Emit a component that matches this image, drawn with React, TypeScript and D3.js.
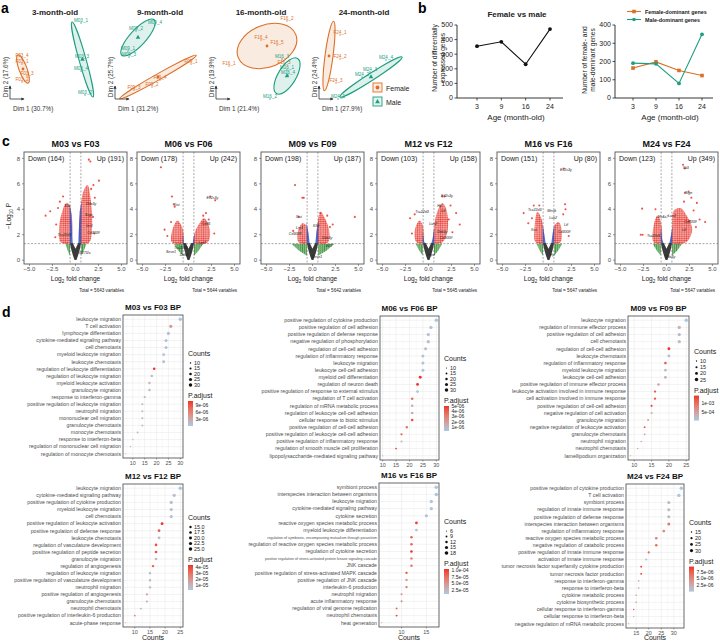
import React from "react";
import * as d3 from "d3";

const FONT = "'Liberation Sans', Arial, Helvetica, sans-serif";
const ORANGE = "#DB6F27";
const GREEN = "#1E9E80";
const TXT = "#4D4D4D";

// ---------------- panel a: PCA ----------------
const pcaAges = ["3-month-old", "9-month-old", "16-month-old", "24-month-old"];
const pcaDim1 = ["30.7%", "31.2%", "21.4%", "27.9%"];
const pcaDim2 = ["17.6%", "25.7%", "19.9%", "24.4%"];
// [sample, dim1, dim2] in plot units
const pcaFemale: [string, number, number][][] = [
  [["F03_4", 12, 41], ["F03_1", 12, 35], ["F03_3", 17, 23], ["F03_2", 12, 17]],
  [["F09_1", 76, 35], ["F09_2", 37, 12], ["F09_3", 19, 9], ["F09_4", 45, 19]],
  [["F16_2", 71, 78], ["F16_4", 45, 59], ["F16_5", 61, 54], ["F16_1", 13, 33], ["F16_3", 68, 34]],
  [["F24_1", 21, 64], ["F24_2", 21, 40], ["F24_3", 17, 16]],
];
const pcaMale: [string, number, number][][] = [
  [["M03_1", 71, 76], ["M03_3", 72, 40], ["M03_4", 71, 28], ["M03_2", 75, 4]],
  [["M09_4", 40, 74], ["M09_2", 21, 68], ["M09_1", 13, 48], ["M09_3", 14, 42]],
  [["M16_3", 66, 40], ["M16_1", 71, 29], ["M16_4", 72, 24], ["M16_2", 54, 0]],
  [["M24_1", 19, 0], ["M24_2", 43, 22], ["M24_3", 51, 27], ["M24_4", 67, 39]],
];
// concentration ellipses: [centre d1, centre d2, semi-major, semi-minor, angle deg]
const ellFemale = [[13, 30, 15, 4, -70], [43, 22, 44, 3, 29.5], [51, 53, 31, 21, 22], [10, 43, 35, 4, 82.5]];
const ellMale = [[72.5, 39.5, 39, 3.5, -74.4], [23, 61.5, 24, 8, 47.6], [71, 23, 20.5, 9, 59], [52, 22, 37, 3.5, 32.8]];

// ---------------- panel b ----------------
const ages = ["3", "9", "16", "24"];
const degTotal = [355, 385, 231, 472];
const femaleDominant = [164, 198, 151, 123];
const maleDominant = [191, 187, 80, 349];

// ---------------- panel c: volcano ----------------
const volTitles = ["M03 vs F03", "M06 vs F06", "M09 vs F09", "M12 vs F12", "M16 vs F16", "M24 vs F24"];
const volDown = [164, 178, 198, 103, 151, 123];
const volUp = [191, 242, 187, 158, 80, 349];
const volTotal = [5643, 5644, 5642, 5645, 5647, 5647];
const volBlueTop = [[4.4, 4.6], [2.0, 2.1], [3.0, 3.1], [2.2, 2.5], [2.8, 2.9], [2.4, 2.6]];
const volGreenReach = [[1.1, 1.2], [1.6, 1.6], [2.3, 2.4], [1.4, 1.5], [1.3, 1.5], [1.5, 1.7]];
const nsCore = [[-0.62, 1.35], [-0.45, 0.8], [-0.25, 0.3], [-0.1, 0.02], [0.1, 0.02], [0.25, 0.3], [0.45, 0.8], [0.62, 1.35], [0.3, 1.35], [0, 0.9], [-0.3, 1.35]];
const volRedLeft = [
  [[-0.6, 1.35], [-1.6, 1.4], [-1.8, 2.4], [-1.5, 3.7], [-1.0, 4.5], [-0.62, 4.3]],
  [[-0.6, 1.35], [-1.8, 1.4], [-1.7, 2.5], [-1.2, 3.1], [-0.65, 2.5]],
  [[-0.6, 1.35], [-1.5, 1.4], [-1.6, 2.2], [-1.1, 2.9], [-0.65, 2.7]],
  [[-0.6, 1.35], [-1.3, 1.4], [-1.5, 2.3], [-1.0, 3.1], [-0.65, 2.8]],
  [[-0.6, 1.35], [-1.4, 1.4], [-1.5, 2.7], [-1.2, 3.8], [-0.7, 3.1]],
  [[-0.6, 1.35], [-1.4, 1.4], [-1.4, 2.7], [-1.0, 3.5], [-0.65, 3.1]],
];
const volRedRight = [
  [[0.6, 1.35], [1.5, 1.4], [1.8, 2.6], [1.7, 4.5], [1.3, 5.9], [0.9, 5.5], [0.62, 4.5]],
  [[0.6, 1.35], [2.1, 1.4], [2.3, 2.5], [1.7, 3.3], [1.2, 2.9], [0.65, 2.1]],
  [[0.6, 1.35], [1.7, 1.4], [1.8, 2.4], [1.2, 3.5], [0.9, 3.8], [0.62, 3.2]],
  [[0.6, 1.35], [1.5, 1.4], [2.1, 2.4], [1.9, 4.1], [1.5, 4.5], [1.0, 3.9], [0.62, 2.7]],
  [[0.6, 1.35], [1.3, 1.4], [1.4, 2.5], [1.1, 3.0], [0.65, 2.7]],
  [[0.6, 1.35], [2.1, 1.4], [2.8, 2.4], [2.2, 3.5], [1.5, 4.1], [0.8, 3.9], [0.62, 2.7]],
];
const volOutliers = [
  [[1.45, 7.9], [1.62, 7.75], [2.55, 6.25], [1.95, 5.9], [1.7, 5.6], [-3.25, 3.5], [-2.75, 3.85], [-1.35, 5.0], [-1.9, 4.1], [2.1, 4.9], [-2.1, 2.8], [2.05, 2.1], [-2.2, 1.8], [1.9, 3.4], [-1.7, 4.6]],
  [[-3.0, 7.3], [-1.8, 5.0], [-1.6, 4.4], [-1.5, 4.2], [2.35, 5.0], [2.9, 4.7], [1.9, 3.7], [-2.6, 2.4], [-2.3, 1.9], [2.8, 2.1], [2.2, 3.2], [-1.9, 3.0], [1.6, 3.5]],
  [[-1.9, 5.9], [-1.1, 4.9], [-0.95, 4.9], [4.6, 3.4], [0.85, 3.7], [2.2, 2.8], [-2.1, 2.3], [1.6, 3.5], [-1.5, 3.4], [1.9, 2.6]],
  [[1.75, 5.0], [1.5, 5.0], [3.0, 3.7], [3.4, 2.8], [-2.0, 3.3], [-1.5, 3.6], [2.4, 4.3], [-1.8, 2.1], [2.6, 2.2], [2.2, 3.2]],
  [[1.65, 7.2], [1.8, 4.4], [1.85, 4.0], [-2.7, 3.7], [-2.2, 2.9], [-1.6, 4.3], [-1.0, 4.3], [1.6, 3.6], [2.2, 1.9], [-1.8, 3.3]],
  [[1.8, 7.5], [2.0, 7.2], [2.0, 5.3], [2.4, 5.4], [-2.65, 4.05], [-1.2, 4.0], [-2.6, 2.0], [-2.8, 2.0], [4.2, 3.0], [2.95, 3.9], [3.6, 3.2], [1.9, 4.6], [2.7, 4.9], [3.2, 2.6], [2.5, 3.1], [3.3, 4.5]],
];
const volGenes: [string, number, number][][] = [
  [["Ddx3y", 1.7, 4.3], ["Srgn", 1.45, 3.5], ["Ier3", 1.5, 2.6], ["Cd300lf", 1.95, 2.05], ["Tsc22d3", -1.2, 1.9], ["Ifi27l2a", 1.0, 0.45], ["Xist", -0.9, 4.2]],
  [["Eif2s3y", 2.6, 4.8], ["Xist", -1.3, 4.25], ["Cd36", 1.9, 2.75], ["Tsc22d3", -0.85, 0.9], ["Sesn1", -1.9, 0.6], ["Ddit4", -0.5, 0.35], ["Lrp1", 1.5, 1.3]],
  [["Xist", -1.5, 3.35], ["Lrp1", -1.4, 2.45], ["Cd300lf", -1.9, 2.0], ["Sesn1", 0.5, 0.15], ["Ddx3y", 1.6, 1.7], ["Ifi27", 1.8, 1.0], ["Klf9", 0.4, 2.6]],
  [["Eif2s3y", 2.0, 5.0], ["Tsc22d3", -0.7, 3.7], ["Hp", 1.2, 4.2], ["Ltf", 1.6, 3.8], ["Lcn2", 0.5, 2.8], ["Ddx3y", 1.5, 2.1], ["Cd300lf", 1.9, 1.7], ["Hpx", 0.3, 0.3]],
  [["Eif2s3y", 1.9, 7.0], ["Tsc22d3", -1.5, 3.85], ["Mertk", 0.35, 3.8], ["Lcn2", 0.5, 3.2], ["Ltf", 1.9, 2.7], ["Cd300lf", 1.7, 2.1], ["Xist", -1.6, 2.3], ["Hp", 0.4, 0.3]],
  [["Ifit3", 2.1, 7.2], ["Srgn", 2.4, 5.2], ["Ms4a7", -0.4, 3.35], ["Lcn2", 0.6, 3.4], ["Cd300lf", 2.6, 2.95], ["Ltf", 1.9, 2.3], ["Tsc22d3", -1.4, 1.8], ["Ddx3y", 0.4, 0.2]],
];

// ---------------- panel d: GO dot plots ----------------
const goTitles = ["M03 vs F03 BP", "M06 vs F06 BP", "M09 vs F09 BP", "M12 vs F12 BP", "M16 vs F16 BP", "M24 vs F24 BP"];
const goTerms03 = ["leukocyte migration", "T cell activation", "lymphocyte differentiation", "cytokine-mediated signaling pathway", "cell chemotaxis", "myeloid leukocyte migration", "leukocyte chemotaxis", "regulation of leukocyte differentiation", "regulation of leukocyte migration", "myeloid leukocyte activation", "granulocyte migration", "response to interferon-gamma", "positive regulation of leukocyte migration", "neutrophil migration", "mononuclear cell migration", "granulocyte chemotaxis", "monocyte chemotaxis", "response to interferon-beta", "regulation of mononuclear cell migration", "regulation of monocyte chemotaxis"];
const goCounts03 = [30, 26, 25, 24, 24, 23, 23, 19, 18, 17, 17, 15, 14, 14, 14, 14, 12, 10, 9, 7];
const goPadj03 = [3e-7, 4.5e-6, 1.2e-6, 8e-7, 8e-7, 6e-7, 9e-7, 1.1e-5, 1.5e-6, 2e-6, 2e-6, 1.8e-6, 2.4e-6, 1.4e-6, 1.6e-6, 1.6e-6, 1.5e-6, 1.5e-6, 2.5e-6, 3e-6];
const goTerms06 = ["positive regulation of cytokine production", "positive regulation of cell adhesion", "positive regulation of defense response", "negative regulation of phosphorylation", "regulation of cell-cell adhesion", "regulation of inflammatory response", "leukocyte migration", "leukocyte cell-cell adhesion", "myeloid cell differentiation", "regulation of neuron death", "positive regulation of response to external stimulus", "regulation of T cell activation", "regulation of mRNA metabolic process", "regulation of leukocyte cell-cell adhesion", "cellular response to biotic stimulus", "positive regulation of cell-cell adhesion", "positive regulation of leukocyte cell-cell adhesion", "positive regulation of inflammatory response", "regulation of smooth muscle cell proliferation", "lipopolysaccharide-mediated signaling pathway"];
const goCounts06 = [30, 28, 27, 27, 26, 25, 25, 25, 24, 23, 23, 21, 21, 21, 21, 19, 17, 17, 15, 10];
const goPadj06 = [3e-7, 5e-7, 6e-7, 8e-7, 7e-7, 6e-7, 6e-7, 5e-7, 5e-6, 5e-6, 6e-7, 3.5e-6, 1.3e-6, 1.5e-6, 4.5e-6, 3.5e-6, 4e-6, 1e-6, 4.5e-6, 2e-6];
const goTerms09 = ["leukocyte migration", "regulation of immune effector process", "positive regulation of cell adhesion", "cell chemotaxis", "regulation of cell-cell adhesion", "leukocyte chemotaxis", "regulation of inflammatory response", "myeloid leukocyte migration", "leukocyte cell-cell adhesion", "positive regulation of immune effector process", "leukocyte activation involved in immune response", "cell activation involved in immune response", "positive regulation of cell-cell adhesion", "negative regulation of cell activation", "granulocyte migration", "negative regulation of leukocyte activation", "granulocyte chemotaxis", "neutrophil migration", "neutrophil chemotaxis", "lamellipodium organization"];
const goCounts09 = [25, 23, 23, 23, 20, 20, 19, 19, 19, 17, 16, 16, 15, 15, 14, 13, 13, 12, 11, 9];
const goPadj09 = [2e-5, 3e-4, 2e-4, 1.5e-4, 1.4e-3, 1e-4, 1.1e-3, 2e-4, 4e-4, 5e-4, 1.2e-3, 1.2e-3, 1.3e-3, 3e-4, 5e-4, 1.2e-3, 5e-4, 4e-4, 4e-4, 6e-4];
const goTerms12 = ["leukocyte migration", "cytokine-mediated signaling pathway", "positive regulation of cytokine production", "myeloid leukocyte migration", "cell chemotaxis", "positive regulation of leukocyte activation", "positive regulation of defense response", "leukocyte chemotaxis", "regulation of vasculature development", "positive regulation of peptide secretion", "granulocyte migration", "regulation of angiogenesis", "regulation of leukocyte migration", "positive regulation of vasculature development", "neutrophil migration", "positive regulation of angiogenesis", "granulocyte chemotaxis", "neutrophil chemotaxis", "positive regulation of interleukin-6 production", "acute-phase response"];
const goCounts12 = [25, 23, 22, 22, 22, 19, 18, 18, 17, 17, 17, 16, 15, 15, 15, 14, 14, 12, 10, 7];
const goPadj12 = [3e-6, 6e-6, 6e-6, 5e-6, 6e-6, 4.3e-5, 3.5e-5, 8e-6, 3.8e-5, 3.8e-5, 1e-5, 3.5e-5, 8e-6, 8e-6, 8e-6, 1.5e-5, 1.2e-5, 1e-5, 3e-5, 2e-5];
const goTerms16 = ["symbiont process", "interspecies interaction between organisms", "leukocyte migration", "cytokine-mediated signaling pathway", "cytokine secretion", "reactive oxygen species metabolic process", "myeloid leukocyte differentiation", "regulation of symbiosis, encompassing mutualism through parasitism", "regulation of reactive oxygen species metabolic process", "regulation of cytokine secretion", "positive regulation of stress-activated protein kinase signaling cascade", "JNK cascade", "positive regulation of stress-activated MAPK cascade", "positive regulation of JNK cascade", "interleukin-6 production", "neutrophil migration", "acute inflammatory response", "regulation of viral genome replication", "neutrophil chemotaxis", "heat generation"];
const goCounts16 = [17, 17, 16, 16, 15, 13, 13, 12, 12, 12, 12, 12, 11, 11, 11, 10, 10, 9, 9, 6];
const goPadj16 = [1e-5, 1e-5, 1.2e-5, 1.2e-5, 1.5e-5, 1e-4, 1.5e-5, 8e-5, 8e-5, 1.05e-4, 6e-5, 7e-5, 9e-5, 5e-5, 7e-5, 5e-5, 5e-5, 8e-5, 1e-4, 6e-5];
const goTerms24 = ["positive regulation of cytokine production", "T cell activation", "symbiont process", "regulation of innate immune response", "positive regulation of defense response", "interspecies interaction between organisms", "regulation of inflammatory response", "reactive oxygen species metabolic process", "negative regulation of catabolic process", "positive regulation of innate immune response", "activation of innate immune response", "tumor necrosis factor superfamily cytokine production", "tumor necrosis factor production", "response to interferon-gamma", "response to interferon-beta", "cytokine metabolic process", "cytokine biosynthetic process", "cellular response to interferon-gamma", "cellular response to interferon-beta", "negative regulation of mRNA metabolic process"];
const goCounts24 = [33, 32, 28, 28, 28, 28, 26, 23, 23, 20, 19, 17, 17, 16, 16, 15, 15, 14, 14, 12];
const goPadj24 = [5e-8, 3e-7, 1.5e-6, 1.5e-6, 1.5e-6, 6e-6, 5e-6, 6e-6, 7e-6, 7e-6, 1.5e-6, 9.6e-6, 9.6e-6, 2e-6, 2.5e-6, 4.5e-6, 4.5e-6, 8e-6, 2.5e-6, 5e-6];
const goSizeBreaks = [[10, 15, 20, 25, 30], [10, 15, 20, 25, 30], [10, 15, 20, 25], [15, 17.5, 20, 22.5, 25], [6, 9, 12, 15, 18], [15, 20, 25, 30]];
const goPadjBreaks = [[3e-6, 6e-6, 9e-6], [1e-6, 2e-6, 3e-6, 4e-6, 5e-6], [5e-4, 1e-3], [1e-5, 2e-5, 3e-5, 4e-5], [2.5e-5, 5e-5, 7.5e-5, 1e-4], [2.5e-6, 5e-6, 7.5e-6]];
const goXTicks = [[10, 15, 20, 25, 30], [10, 15, 20, 25, 30], [10, 15, 20, 25], [10, 15, 20, 25], [10, 15], [15, 20, 25, 30]];

// layout
const pcaCorner = [[10, 99], [115, 99], [216, 99], [319, 99]];
const volLeft = [24, 137, 261, 377, 497, 615];
const dotBox = [
  { x: 123, y: 315, w: 60, h: 143, leg: 356, lab: false, d: 0 },
  { x: 380, y: 316, w: 59, h: 144, leg: 361, lab: false, d: 0 },
  { x: 628, y: 316, w: 61, h: 144, leg: 354, lab: false, d: 0 },
  { x: 123, y: 484, w: 60, h: 143, leg: 520, lab: true, d: 0 },
  { x: 379, y: 483, w: 60, h: 144, leg: 524, lab: true, d: 1 },
  { x: 626, y: 484, w: 58, h: 144, leg: 525, lab: true, d: 1 },
];

const RED = "#E8281E";
const minus = (s: string) => s.replace("-", "\u2212");
const expFmt = (v: number, d: number) => v.toExponential(d).replace(/e([+-])(\d)$/, "e$10$2");

function PanelA() {
  return (
    <g>
      <text x={1} y={13} fontSize={14} fontWeight="bold">a</text>
      {pcaAges.map((age, i) => {
        const [cx, cy] = pcaCorner[i];
        const x = d3.scaleLinear().domain([0, 100]).range([cx, cx + 100]);
        const y = d3.scaleLinear().domain([0, 100]).range([cy, cy - 100]);
        const groups = [
          { s: pcaFemale[i], e: ellFemale[i], c: ORANGE, tri: false },
          { s: pcaMale[i], e: ellMale[i], c: GREEN, tri: true },
        ];
        return (
          <g key={age}>
            <text x={cx + 45} y={15} textAnchor="middle" fontSize={8} fontWeight="bold" fill="#222">{age}</text>
            {groups.map((g, k) => {
              const [ex, ey, a, b, ang] = g.e;
              const px = x(ex), py = y(ey);
              return (
                <g key={k}>
                  <ellipse cx={px} cy={py} rx={x(a) - x(0)} ry={x(b) - x(0)}
                    transform={`rotate(${-ang} ${px} ${py})`}
                    fill={g.c} fillOpacity={0.14} stroke={g.c} strokeWidth={1.1} />
                  {g.tri
                    ? <path d={d3.symbol(d3.symbolTriangle, 9)()!} transform={`translate(${px},${py})`} fill={g.c} />
                    : <circle cx={px} cy={py} r={1.4} fill={g.c} />}
                  {g.s.map(([lab, d1, d2]) => (
                    <g key={lab}>
                      <circle cx={x(d1)} cy={y(d2)} r={0.7} fill={g.c} />
                      <text x={x(d1)} y={y(d2) - 1.5} textAnchor="middle" fontSize={4.6} fill={g.c}>{lab}</text>
                    </g>
                  ))}
                </g>
              );
            })}
            <line x1={cx} y1={cy} x2={cx} y2={cy - 13} stroke="#333" strokeWidth={0.8} markerEnd="url(#arr)" />
            <line x1={cx} y1={cy} x2={cx + 14} y2={cy} stroke="#333" strokeWidth={0.8} markerEnd="url(#arr)" />
            <text transform={`translate(${cx - 2.5},${cy - 22}) rotate(-90)`} textAnchor="middle" fontSize={6.3} fill="#333">Dim 2 ({pcaDim2[i]})</text>
            <text x={cx + 3} y={111} fontSize={6.3} fill="#333">Dim 1 ({pcaDim1[i]})</text>
          </g>
        );
      })}
      <rect x={373} y={83} width={9} height={9} fill={ORANGE} fillOpacity={0.12} stroke={ORANGE} strokeWidth={0.9} />
      <circle cx={377.5} cy={87.5} r={1.9} fill={ORANGE} />
      <text x={386} y={90.5} fontSize={7} fill="#222">Female</text>
      <rect x={373} y={97} width={9} height={9} fill={GREEN} fillOpacity={0.12} stroke={GREEN} strokeWidth={0.9} />
      <path d={d3.symbol(d3.symbolTriangle, 10)()!} transform="translate(377.5,101.8)" fill={GREEN} />
      <text x={386} y={104.5} fontSize={7} fill="#222">Male</text>
    </g>
  );
}

function LineAxes({ x, y, x0, x1, yTicks }: any) {
  const yb = y.range()[0];
  return (
    <g fontSize={7} fill="#222">
      <line x1={x0} y1={yb} x2={x1} y2={yb} stroke="#222" strokeWidth={0.9} />
      <line x1={x0} y1={yb} x2={x0} y2={y.range()[1]} stroke="#222" strokeWidth={0.9} />
      {yTicks.map((t: number) => (
        <g key={t}>
          <line x1={x0 - 2.5} x2={x0} y1={y(t)} y2={y(t)} stroke="#222" strokeWidth={0.8} />
          <text x={x0 - 4} y={y(t) + 2.4} textAnchor="end">{t}</text>
        </g>
      ))}
      {ages.map(a => (
        <g key={a}>
          <line x1={x(a)} x2={x(a)} y1={yb} y2={yb + 2.5} stroke="#222" strokeWidth={0.8} />
          <text x={x(a)} y={yb + 11} textAnchor="middle">{a}</text>
        </g>
      ))}
      <text x={(x0 + x1) / 2 + 6} y={120} textAnchor="middle" fontSize={8}>Age (month-old)</text>
    </g>
  );
}

function PanelB() {
  const yL = d3.scaleLinear().domain([0, 500]).range([98, 25]);
  const xL = d3.scalePoint<string>().domain(ages).range([477, 550]);
  const yR = d3.scaleLinear().domain([0, 400]).range([98, 25]);
  const xR = d3.scalePoint<string>().domain(ages).range([633, 702]);
  const lineL = d3.line<number>().x((_, i) => xL(ages[i])!).y(d => yL(d));
  const lineR = d3.line<number>().x((_, i) => xR(ages[i])!).y(d => yR(d));
  const sq = d3.symbol(d3.symbolSquare, 13)()!;
  return (
    <g>
      <text x={418} y={13} fontSize={14} fontWeight="bold">b</text>
      <text x={517} y={17} textAnchor="middle" fontSize={8} fontWeight="bold" fill="#222">Female vs male</text>
      <LineAxes x={xL} y={yL} x0={457} x1={563} yTicks={d3.range(0, 501, 100)} />
      <text transform="translate(437,58) rotate(-90)" textAnchor="middle" fontSize={6.6} fill="#222">Number of differentially</text>
      <text transform="translate(445,58) rotate(-90)" textAnchor="middle" fontSize={6.6} fill="#222">expressed genes</text>
      <path d={lineL(degTotal)!} fill="none" stroke="#111" strokeWidth={1.1} />
      {degTotal.map((v, i) => <circle key={i} cx={xL(ages[i])} cy={yL(v)} r={1.9} fill="#111" />)}

      <LineAxes x={xR} y={yR} x0={615} x1={713} yTicks={d3.range(0, 401, 100)} />
      <text transform="translate(587,60) rotate(-90)" textAnchor="middle" fontSize={6.6} fill="#222">Number of female- and</text>
      <text transform="translate(595,60) rotate(-90)" textAnchor="middle" fontSize={6.6} fill="#222">male-dominant genes</text>
      <path d={lineR(femaleDominant)!} fill="none" stroke={ORANGE} strokeWidth={1.1} />
      {femaleDominant.map((v, i) => <path key={i} d={sq} transform={`translate(${xR(ages[i])},${yR(v)})`} fill={ORANGE} />)}
      <path d={lineR(maleDominant)!} fill="none" stroke={GREEN} strokeWidth={1.1} />
      {maleDominant.map((v, i) => <circle key={i} cx={xR(ages[i])} cy={yR(v)} r={1.9} fill={GREEN} />)}
      <line x1={627} x2={641} y1={11.5} y2={11.5} stroke={ORANGE} strokeWidth={1.1} />
      <path d={sq} transform="translate(634,11.5)" fill={ORANGE} />
      <text x={645} y={13.5} fontSize={5.4} fontWeight="bold" fill="#222">Female-dominant genes</text>
      <line x1={627} x2={641} y1={19.5} y2={19.5} stroke={GREEN} strokeWidth={1.1} />
      <circle cx={634} cy={19.5} r={1.8} fill={GREEN} />
      <text x={645} y={21.5} fontSize={5.4} fontWeight="bold" fill="#222">Male-dominant genes</text>
    </g>
  );
}

function Volcano({ i }: { i: number }) {
  const fx = volLeft[i], fy = 152, fw = 103, fh = 112;
  const x = d3.scaleLinear().domain([-5.6, 5.6]).range([fx, fx + fw]);
  const y = d3.scaleLinear().domain([-0.3, 8.5]).range([fy + fh, fy]);
  const poly = d3.line<number[]>().x(d => x(d[0])).y(d => y(d[1])).curve(d3.curveCatmullRomClosed.alpha(0.5));
  const lin = d3.line<number[]>().x(d => x(d[0])).y(d => y(d[1])).curve(d3.curveLinearClosed);
  const [bL, bR] = volBlueTop[i];
  const [gL, gR] = volGreenReach[i];
  const blueL = [[-0.62, 1.3], [-0.64, bL], [-0.45, bL - 0.8], [-0.3, 1.3]];
  const blueR = [[0.62, 1.3], [0.64, bR], [0.45, bR - 0.8], [0.3, 1.3]];
  const greenL = [[-0.6, 1.3], [-gL, 1.3], [-(gL + 0.6) / 2, 0.75], [-0.6, 0.35]];
  const greenR = [[0.6, 1.3], [gR, 1.3], [(gR + 0.6) / 2, 0.75], [0.6, 0.35]];
  const cid = `vclip${i}`;
  return (
    <g>
      <clipPath id={cid}><rect x={fx} y={fy} width={fw} height={fh} /></clipPath>
      <text x={fx + fw / 2} y={147} textAnchor="middle" fontSize={9} fontWeight="bold" fill="#111">{volTitles[i]}</text>
      <g clipPath={`url(#${cid})`}>
        <path d={lin(greenL)!} fill="url(#dotsGreen)" />
        <path d={lin(greenR)!} fill="url(#dotsGreen)" />
        <path d={poly(volRedLeft[i])!} fill="url(#dotsRed)" />
        <path d={poly(volRedRight[i])!} fill="url(#dotsRed)" />
        <path d={lin(blueL)!} fill="#2F55D4" fillOpacity={0.85} />
        <path d={lin(blueR)!} fill="#2F55D4" fillOpacity={0.85} />
        <path d={lin(nsCore)!} fill="#3A3A3A" />
        {volOutliers[i].map((p, k) => <circle key={k} cx={x(p[0])} cy={y(p[1])} r={1.05} fill={RED} fillOpacity={0.8} />)}
        <line x1={x(-0.585)} x2={x(-0.585)} y1={fy} y2={fy + fh} stroke="#555" strokeWidth={0.5} strokeDasharray="2,1.5" />
        <line x1={x(0.585)} x2={x(0.585)} y1={fy} y2={fy + fh} stroke="#555" strokeWidth={0.5} strokeDasharray="2,1.5" />
        <line x1={fx} x2={fx + fw} y1={y(1.3)} y2={y(1.3)} stroke="#555" strokeWidth={0.5} strokeDasharray="2,1.5" />
        {volGenes[i].map(([g, gx, gy], k) => (
          <text key={k} x={x(gx)} y={y(gy)} fontSize={3.6} fontStyle="italic" fill="#222" textAnchor="middle">{g}</text>
        ))}
      </g>
      <rect x={fx} y={fy} width={fw} height={fh} fill="none" stroke="#555" strokeWidth={0.9} />
      <text x={fx + 4} y={161} fontSize={7} fill="#222">Down ({volDown[i]})</text>
      <text x={fx + fw - 3} y={161} fontSize={7} fill="#222" textAnchor="end">Up ({volUp[i]})</text>
      {[0, 2, 4, 6, 8].map(t => (
        <g key={t}>
          <line x1={fx - 2} x2={fx} y1={y(t)} y2={y(t)} stroke="#555" strokeWidth={0.6} />
          <text x={fx - 4} y={y(t) + 2.2} fontSize={6} textAnchor="end" fill={TXT}>{t}</text>
        </g>
      ))}
      {[-5, -2.5, 0, 2.5, 5].map(t => (
        <g key={t}>
          <line x1={x(t)} x2={x(t)} y1={fy + fh} y2={fy + fh + 2} stroke="#555" strokeWidth={0.6} />
          <text x={x(t)} y={270.5} fontSize={6} textAnchor="middle" fill={TXT}>{minus(t.toFixed(1))}</text>
        </g>
      ))}
      <text x={fx + fw / 2} y={281} fontSize={6.6} textAnchor="middle" fill="#222">
        Log<tspan fontSize={4.6} dy={1.5}>2</tspan><tspan dy={-1.5}> fold change</tspan>
      </text>
      <text x={fx + fw - 3} y={292} fontSize={4.6} textAnchor="end" fill="#222">Total = {volTotal[i]} variables</text>
      {i === 0 && (
        <text transform="translate(11,216) rotate(-90)" fontSize={6.6} textAnchor="middle" fill="#222">
          {"\u2212"}Log<tspan fontSize={4.6} dy={1.5}>10</tspan><tspan dy={-1.5}> P</tspan>
        </text>
      )}
    </g>
  );
}

function PanelC() {
  return (
    <g>
      <text x={2} y={146} fontSize={14} fontWeight="bold">c</text>
      {volTitles.map((_, i) => <Volcano key={i} i={i} />)}
    </g>
  );
}

const goTerms = [goTerms03, goTerms06, goTerms09, goTerms12, goTerms16, goTerms24];
const goCounts = [goCounts03, goCounts06, goCounts09, goCounts12, goCounts16, goCounts24];
const goPadj = [goPadj03, goPadj06, goPadj09, goPadj12, goPadj16, goPadj24];

function DotPlot({ i }: { i: number }) {
  const b = dotBox[i];
  const terms = goTerms[i], counts = goCounts[i], padj = goPadj[i];
  const [cMin, cMax] = d3.extent(counts) as [number, number];
  const pad = (cMax - cMin) * 0.05;
  const x = d3.scaleLinear().domain([cMin - pad, cMax + pad]).range([b.x, b.x + b.w]);
  const y = d3.scalePoint<string>().domain(terms).range([b.y, b.y + b.h]).padding(0.6);
  const r = d3.scaleSqrt().domain([cMin, cMax]).range([0.55, 1.75]);
  const [pLo, pHi] = d3.extent(padj) as [number, number];
  const col = d3.scaleLinear<string>().domain([pLo, pHi]).range(["#A9C9E0", "#F0302A"]).interpolate(d3.interpolateLab);
  const ticks = goXTicks[i];
  const minor = ticks.map(t => t - 2.5).concat([ticks[ticks.length - 1] + 2.5]).filter(t => t > x.domain()[0] && t < x.domain()[1]);
  const breaks = goSizeBreaks[i];
  const step = breaks.length === 4 ? 6.2 : 5.5;
  const lx = b.x + b.w + 5;
  const itemY = (k: number) => b.leg + 7 + k * step;
  const pBase = itemY(breaks.length - 1) + 13;
  const barTop = pBase + 3, barH = 25;
  const yb = d3.scaleLinear().domain([pLo, pHi]).range([barTop + barH, barTop]);
  const gid = `grad${i}`;
  const cid = `dclip${i}`;
  return (
    <g>
      <defs>
        <linearGradient id={gid} x1="0" y1="0" x2="0" y2="1">
          {d3.range(0, 1.001, 0.1).map(t => (
            <stop key={t} offset={t} stopColor={col(pHi - t * (pHi - pLo))} />
          ))}
        </linearGradient>
        <clipPath id={cid}><rect x={i === 4 ? 240 : 0} y={0} width={720} height={641} /></clipPath>
      </defs>
      <text x={b.x + b.w / 2} y={b.y - 5} textAnchor="middle" fontSize={8} fontWeight="bold" fill="#111">{goTitles[i]}</text>
      <rect x={b.x} y={b.y} width={b.w} height={b.h} fill="#fff" />
      {minor.map(t => <line key={"m" + t} x1={x(t)} x2={x(t)} y1={b.y} y2={b.y + b.h} stroke="#F2F2F2" strokeWidth={0.4} />)}
      {ticks.map(t => <line key={t} x1={x(t)} x2={x(t)} y1={b.y} y2={b.y + b.h} stroke="#E6E6E6" strokeWidth={0.5} />)}
      {terms.map(t => <line key={t} x1={b.x} x2={b.x + b.w} y1={y(t)} y2={y(t)} stroke="#E6E6E6" strokeWidth={0.5} />)}
      {terms.map((t, k) => <circle key={t} cx={x(counts[k])} cy={y(t)} r={r(counts[k])} fill={col(padj[k])} />)}
      <rect x={b.x} y={b.y} width={b.w} height={b.h} fill="none" stroke="#444" strokeWidth={0.8} />
      <g clipPath={`url(#${cid})`}>
        {terms.map(t => (
          <text key={t} x={b.x - 2} y={y(t)! + 1.8} textAnchor="end" fontSize={t.length > 60 ? 3.6 : 5.2} fill={TXT}>{t}</text>
        ))}
      </g>
      {ticks.map(t => (
        <g key={t}>
          <line x1={x(t)} x2={x(t)} y1={b.y + b.h} y2={b.y + b.h + 1.5} stroke="#444" strokeWidth={0.5} />
          <text x={x(t)} y={b.y + b.h + 6.5} textAnchor="middle" fontSize={5.4} fill={TXT}>{t}</text>
        </g>
      ))}
      {b.lab && <text x={b.x + b.w / 2} y={640} textAnchor="middle" fontSize={7} fill="#222">Counts</text>}
      <text x={lx} y={b.leg} fontSize={7} fill="#222">Counts</text>
      {breaks.map((v, k) => (
        <g key={v}>
          <circle cx={lx + 2.5} cy={itemY(k)} r={Math.max(0.4, r(v))} fill="#111" />
          <text x={lx + 6} y={itemY(k) + 1.9} fontSize={5.4} fill="#222">{i === 3 ? v.toFixed(1) : v}</text>
        </g>
      ))}
      <text x={lx} y={pBase} fontSize={7} fill="#222">P.adjust</text>
      <rect x={lx} y={barTop} width={5} height={barH} fill={`url(#${gid})`} />
      {goPadjBreaks[i].map(v => (
        <text key={v} x={lx + 7.5} y={yb(v) + 1.8} fontSize={5} fill="#222">{expFmt(v, b.d)}</text>
      ))}
    </g>
  );
}

function PanelD() {
  return (
    <g>
      <text x={2} y={317} fontSize={14} fontWeight="bold">d</text>
      {goTitles.map((_, i) => <DotPlot key={i} i={i} />)}
    </g>
  );
}

export default function App() {
  return (
    <svg width={720} height={641} style={{ position: "absolute", left: 0, top: 0, display: "block" }} fontFamily={FONT}>
      <defs>
        <marker id="arr" viewBox="0 0 6 6" refX={5} refY={3} markerWidth={4} markerHeight={4} orient="auto">
          <path d="M0,0 L6,3 L0,6 z" fill="#333" />
        </marker>
        <pattern id="dotsRed" width={2.3} height={2.1} patternUnits="userSpaceOnUse">
          <rect width={2.3} height={2.1} fill={RED} fillOpacity={0.25} />
          <circle cx={1.15} cy={1.05} r={0.95} fill={RED} fillOpacity={0.85} />
        </pattern>
        <pattern id="dotsGreen" width={2.2} height={2.0} patternUnits="userSpaceOnUse">
          <rect width={2.2} height={2.0} fill="#2E8B2E" fillOpacity={0.3} />
          <circle cx={1.1} cy={1.0} r={0.9} fill="#2E8B2E" fillOpacity={0.9} />
        </pattern>
      </defs>
      <rect width={720} height={641} fill="#fff" />
      <PanelA />
      <PanelB />
      <PanelC />
      <PanelD />
    </svg>
  );
}
